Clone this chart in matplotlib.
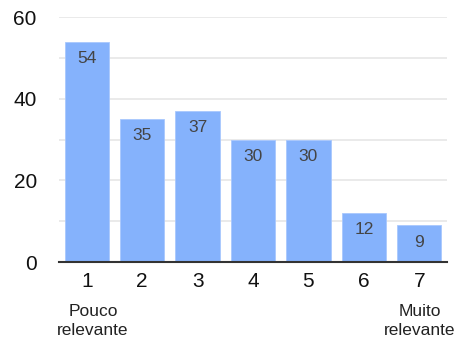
import matplotlib.pyplot as plt

# Respostas por nível de relevância (escala 1-7)
levels = ['1', '2', '3', '4', '5', '6', '7']
counts = [54, 35, 37, 30, 30, 12, 9]
y_ticks = [0, 20, 40, 60]

plt.rcParams['font.family'] = ['Liberation Sans', 'DejaVu Sans']

fig = plt.figure(figsize=(4.65, 3.43), dpi=100)
ax = fig.add_axes([59 / 465, 1 - 262 / 343, 388 / 465, 245 / 343])

pos = range(len(levels))
bars = ax.bar(pos, counts, width=0.8, color='#85b2fc', edgecolor='#a9c8fd', linewidth=0.6, zorder=2)

for b, v in zip(bars, counts):
    ax.text(b.get_x() + b.get_width() / 2, v - 2.3, str(v), ha='center', va='top',
            fontsize=12.5, color='#444444', zorder=3)

ax.set_xlim(-0.5, 6.5)
ax.set_ylim(0, 60)
ax.set_yticks(y_ticks)
ax.set_yticks(range(0, 61, 10), minor=True)
ax.set_xticks(list(pos))
ax.set_xticklabels(levels)
ax.grid(axis='y', which='both', color='#e6e6e6', linewidth=1.2, zorder=0)
ax.tick_params(axis='both', length=0, labelsize=15, colors='#111111')
ax.tick_params(axis='y', which='minor', length=0)
ax.tick_params(axis='y', pad=16)
ax.tick_params(axis='x', pad=7)

for s in ['top', 'right', 'left']:
    ax.spines[s].set_visible(False)
ax.spines['bottom'].set_color('#333333')
ax.spines['bottom'].set_linewidth(1.5)
ax.spines['bottom'].set_zorder(4)

for x, txt in [(93, 'Pouco\nrelevante'), (420, 'Muito\nrelevante')]:
    fig.text(x / 465, 1 - 321 / 343, txt, ha='center', va='center',
             fontsize=12.5, color='#222222', linespacing=1.3)

fig.savefig('out.png', dpi=100, facecolor='white')
